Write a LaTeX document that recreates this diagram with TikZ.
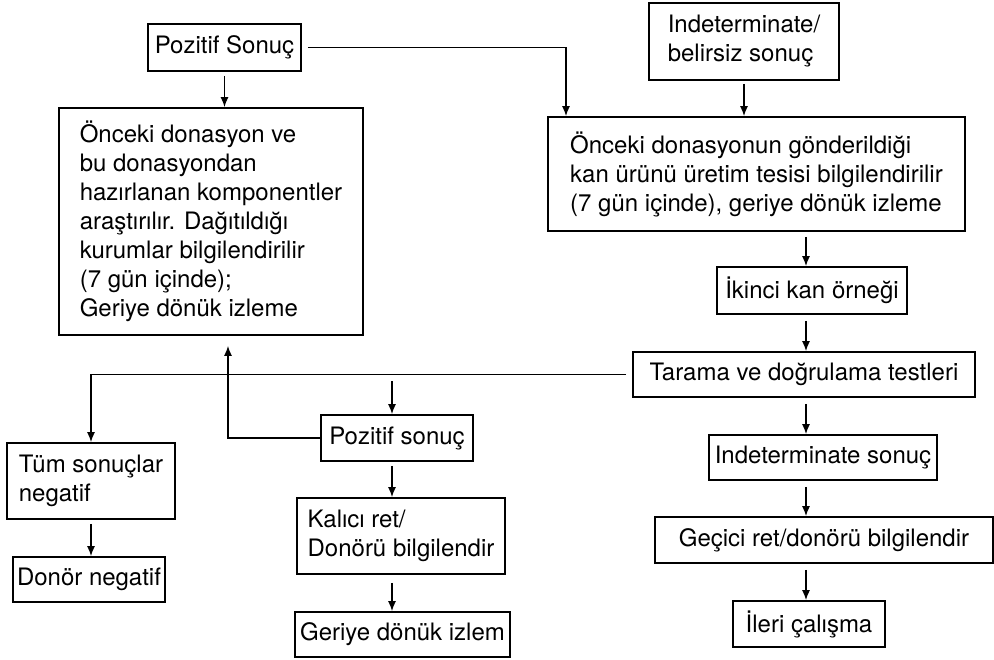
\documentclass[tikz,border=0pt]{standalone}
\usepackage{fontspec}
\setmainfont{TeX Gyre Heros}
\usetikzlibrary{arrows.meta}

\begin{document}
\begin{tikzpicture}[x=1pt,y=-1pt,
  box/.style={draw,line width=1.7pt,inner sep=0pt,font=\fontsize{24}{29}\selectfont},
  conn/.style={line width=1.4pt,-{Latex[length=10pt,width=8pt]}}]
  \useasboundingbox (0,0) rectangle (994,660);
  % guide lines for the vertical arrows
  \coordinate (drop) at (566,0);
  \coordinate (back) at (228,0);
  \coordinate (mspine) at (392,0);
  \coordinate (rspine) at (806,0);
  % upper row
  \node[box,minimum width=153,minimum height=47] (pos1) at (224.5,47.5) {Pozitif Sonuç};
  \node[box,minimum width=190,minimum height=77,align=left]
    (indet1) at (744,41.5) {Indeterminate/\\belirsiz sonuç};
  \node[box,minimum width=304,minimum height=227,align=left]
    (prev1) at (211,221.5) {Önceki donasyon ve\\bu donasyondan\\hazırlanan komponentler\\araştırılır. Dağıtıldığı\\kurumlar bilgilendirilir\\(7 gün içinde);\\Geriye dönük izleme};
  \node[box,minimum width=417,minimum height=114,align=left]
    (prev2) at (756.5,174) {Önceki donasyonun gönderildiği\\kan ürünü üretim tesisi bilgilendirilir\\(7 gün içinde), geriye dönük izleme};
  % right column
  \node[box,minimum width=190,minimum height=47] (second) at (812,290.5) {İkinci kan örneği};
  \node[box,minimum width=342,minimum height=45] (tests) at (804,374.5) {Tarama ve doğrulama testleri};
  \node[box,minimum width=228,minimum height=45] (indet2) at (823,457.5) {Indeterminate sonuç};
  \node[box,minimum width=338,minimum height=46] (temp) at (824,540) {Geçici ret/donörü bilgilendir};
  \node[box,minimum width=152,minimum height=46] (further) at (809,624) {İleri çalışma};
  % lower left
  \node[box,minimum width=168,minimum height=76,align=left]
    (allneg) at (91,481) {Tüm sonuçlar\\negatif};
  \node[box,minimum width=152,minimum height=45] (donneg) at (89,579.5) {Donör negatif};
  \node[box,minimum width=152,minimum height=46] (pos2) at (397,438) {Pozitif sonuç};
  \node[box,minimum width=208,minimum height=76,align=left]
    (perm) at (401,536) {Kalıcı ret/\\Donörü bilgilendir};
  \node[box,minimum width=215,minimum height=45] (retro) at (402.5,634.5) {Geriye dönük izlem};
  % connectors
  \draw[conn,shorten <=4pt] (pos1.south) -- (pos1.south |- prev1.north);
  \draw[conn,shorten <=6pt] (pos1.east) -| (prev2.north -| drop);
  \draw[conn,shorten <=3pt] (indet1.south) -- (indet1.south |- prev2.north);
  \draw[conn,shorten <=5pt] (prev2.south -| rspine) -- (second.north -| rspine);
  \draw[conn,shorten <=6pt] (second.south -| rspine) -- (tests.north -| rspine);
  \draw[conn,shorten <=6pt] (tests.south -| rspine) -- (indet2.north -| rspine);
  \draw[conn,shorten <=6pt] (indet2.south -| rspine) -- (temp.north -| rspine);
  \draw[conn,shorten <=6pt] (temp.south -| rspine) -- (further.north -| rspine);
  \draw[conn,shorten <=6pt] (tests.west) -| (allneg.north);
  \draw[conn,shorten <=7pt] (tests.west -| mspine) -- (pos2.north -| mspine);
  \draw[conn,shorten >=10pt] (pos2.west) -| (prev1.south -| back);
  \draw[conn,shorten <=4pt] (pos2.south -| mspine) -- (perm.north -| mspine);
  \draw[conn,shorten <=8pt] (perm.south -| mspine) -- (retro.north -| mspine);
  \draw[conn,shorten <=4pt] (allneg.south) -- (allneg.south |- donneg.north);
\end{tikzpicture}
\end{document}
